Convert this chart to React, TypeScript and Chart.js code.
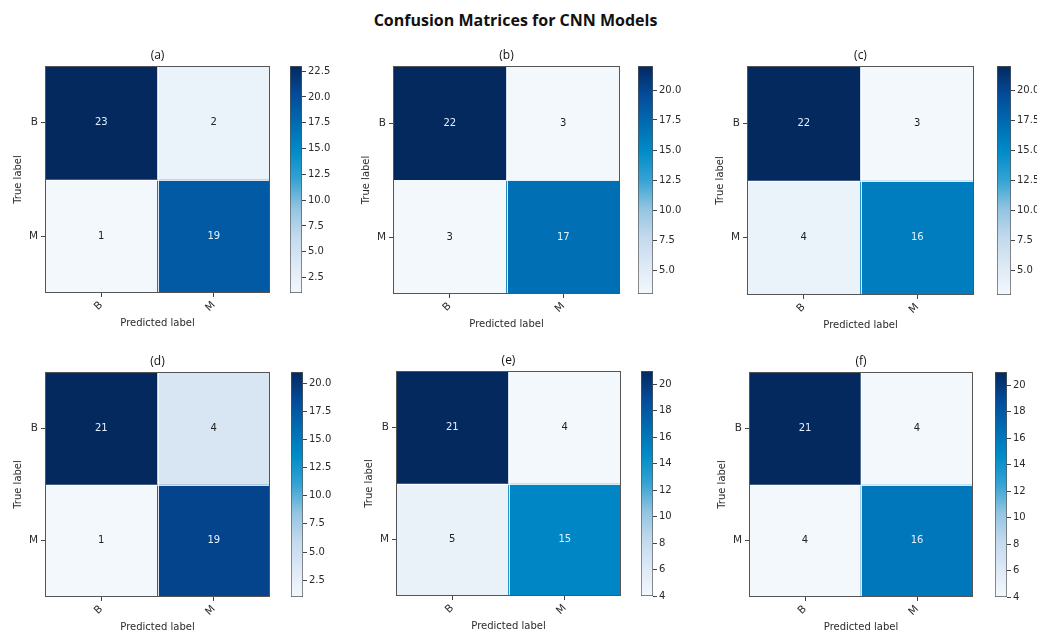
import React, { useEffect, useRef } from 'react';
import { Chart, registerables } from 'chart.js';

Chart.register(...registerables);

// ---------- data ----------
const classLabels = ['B', 'M'];
const panelTitles = ['(a)', '(b)', '(c)', '(d)', '(e)', '(f)'];

const matrixA = [[23, 2], [1, 19]];
const matrixB = [[22, 3], [3, 17]];
const matrixC = [[22, 3], [4, 16]];
const matrixD = [[21, 4], [1, 19]];
const matrixE = [[21, 4], [5, 15]];
const matrixF = [[21, 4], [4, 16]];

const colorbarTicksA = [2.5, 5, 7.5, 10, 12.5, 15, 17.5, 20, 22.5];
const colorbarTicksB = [5, 7.5, 10, 12.5, 15, 17.5, 20];
const colorbarTicksC = [5, 7.5, 10, 12.5, 15, 17.5, 20];
const colorbarTicksD = [2.5, 5, 7.5, 10, 12.5, 15, 17.5, 20];
const colorbarTicksE = [4, 6, 8, 10, 12, 14, 16, 18, 20];
const colorbarTicksF = [4, 6, 8, 10, 12, 14, 16, 18, 20];
const colorbarDecimals = [1, 1, 1, 1, 0, 0];

const matrices = [matrixA, matrixB, matrixC, matrixD, matrixE, matrixF];
const colorbarTicks = [colorbarTicksA, colorbarTicksB, colorbarTicksC, colorbarTicksD, colorbarTicksE, colorbarTicksF];

const mainTitle = 'Confusion Matrices for CNN Models';
const xTitle = 'Predicted label';
const yTitle = 'True label';

// ---------- layout (pixel boxes of each panel) ----------
const layouts = [
  { mx: 45, my: 66, w: 225, h: 227, cbx: 290, cbw: 12 },
  { mx: 393, my: 66, w: 227, h: 228, cbx: 638, cbw: 15 },
  { mx: 747, my: 66, w: 227, h: 229, cbx: 997, cbw: 14 },
  { mx: 45, my: 372, w: 225, h: 225, cbx: 291, cbw: 12 },
  { mx: 396, my: 371, w: 225, h: 225, cbx: 641, cbw: 12 },
  { mx: 749, my: 372, w: 224, h: 225, cbx: 995, cbw: 12 },
];

// Blues-like colormap as seen in the picture
const cmapStops: [number, string][] = [
  [0, '#f3f8fd'],
  [0.125, '#dde9f5'],
  [0.25, '#c3d9ed'],
  [0.375, '#92c4e1'],
  [0.5, '#35a3d3'],
  [0.625, '#008cc8'],
  [0.75, '#006cb2'],
  [0.875, '#044b98'],
  [1, '#03295f'],
];

const hexToRgb = (h: string) => [1, 3, 5].map((i) => parseInt(h.slice(i, i + 2), 16));

function colorFor(v: number, min: number, max: number) {
  const t = Math.min(1, Math.max(0, (v - min) / (max - min)));
  for (let i = 0; i < cmapStops.length - 1; i++) {
    const [p0, c0] = cmapStops[i];
    const [p1, c1] = cmapStops[i + 1];
    if (t >= p0 && t <= p1) {
      const f = (t - p0) / (p1 - p0);
      const a = hexToRgb(c0);
      const b = hexToRgb(c1);
      const c = a.map((x, k) => Math.round(x + (b[k] - x) * f));
      return `rgb(${c[0]},${c[1]},${c[2]})`;
    }
  }
  return cmapStops[cmapStops.length - 1][1];
}

const FONT = 'DejaVu Sans';
const TEXT = '#2b2b2b';

function makeMatrixChart(canvas: HTMLCanvasElement, idx: number) {
  const matrix = matrices[idx];
  const flat = matrix.flat();
  const min = Math.min(...flat);
  const max = Math.max(...flat);
  const thresh = max / 2;

  const cellPlugin = {
    id: 'cells' + idx,
    afterDatasetsDraw(chart: any) {
      const ctx = chart.ctx;
      const area = chart.chartArea;
      const xs = chart.scales.x;
      const ys = chart.scales.y;
      ctx.save();
      // separators
      ctx.strokeStyle = 'rgba(255,255,255,0.85)';
      ctx.lineWidth = 1;
      for (let i = 1; i < classLabels.length; i++) {
        const bx = Math.round((xs.getPixelForValue(i - 1) + xs.getPixelForValue(i)) / 2) + 0.5;
        ctx.beginPath();
        ctx.moveTo(bx, area.top);
        ctx.lineTo(bx, area.bottom);
        ctx.stroke();
        const by = Math.round(ys.getPixelForValue(i)) + 0.5;
        ctx.beginPath();
        ctx.moveTo(area.left, by);
        ctx.lineTo(area.right, by);
        ctx.stroke();
      }
      // numbers
      ctx.font = `10px "${FONT}"`;
      ctx.textAlign = 'center';
      ctx.textBaseline = 'middle';
      chart.data.datasets.forEach((ds: any, r: number) => {
        const meta = chart.getDatasetMeta(r);
        meta.data.forEach((el: any, c: number) => {
          const v = matrix[r][c];
          ctx.fillStyle = v > thresh ? '#e4f1fb' : '#222';
          ctx.fillText(String(v), el.x, (el.y + el.base) / 2);
        });
      });
      // frame
      ctx.strokeStyle = '#555';
      ctx.lineWidth = 1;
      ctx.strokeRect(Math.round(area.left) + 0.5, Math.round(area.top) + 0.5, Math.round(area.right - area.left) - 1, Math.round(area.bottom - area.top) - 1);
      // panel title, centred over the matrix
      ctx.font = `12px "Open Sans"`;
      ctx.fillStyle = '#111';
      ctx.textAlign = 'center';
      ctx.textBaseline = 'middle';
      ctx.fillText(panelTitles[idx], (area.left + area.right) / 2, area.top - 10);
      ctx.restore();
    },
  };

  return new Chart(canvas, {
    type: 'bar',
    data: {
      labels: classLabels,
      datasets: matrix.map((row, r) => ({
        label: classLabels[r],
        data: row.map(() => [r, r + 1]),
        backgroundColor: row.map((v) => colorFor(v, min, max)),
        borderWidth: 0,
        barPercentage: 1,
        categoryPercentage: 1,
        grouped: false,
      })),
    } as any,
    options: {
      responsive: false,
      animation: false,
      events: [],
      layout: { padding: { left: 0, right: 5, top: 26, bottom: 0 } },
      plugins: {
        legend: { display: false },
        tooltip: { enabled: false },
        title: { display: false },
      },
      scales: {
        x: {
          type: 'category',
          offset: true,
          grid: { display: true, drawOnChartArea: false, offset: false, tickLength: 4, tickColor: '#444', tickWidth: 1 },
          border: { display: false },
          ticks: { minRotation: 45, maxRotation: 45, padding: 2, color: TEXT, font: { family: FONT, size: 10.5 } },
          title: { display: true, text: xTitle, color: TEXT, font: { family: FONT, size: 10 }, padding: { top: 0, bottom: 9 } },
          afterFit: (s: any) => { s.height = 45; },
        },
        y: {
          type: 'linear',
          min: 0,
          max: classLabels.length,
          reverse: true,
          afterBuildTicks: (s: any) => { s.ticks = classLabels.map((_, i) => ({ value: i + 0.5 })); },
          grid: { display: true, drawOnChartArea: false, tickLength: 4, tickColor: '#444', tickWidth: 1 },
          border: { display: false },
          ticks: { padding: 3, color: TEXT, font: { family: FONT, size: 10.5 }, callback: (_v: any, i: number) => classLabels[i] },
          title: { display: true, text: yTitle, color: TEXT, font: { family: FONT, size: 10 }, padding: { top: 12, bottom: 0 } },
          afterFit: (s: any) => { s.width = 45; },
        },
      },
    } as any,
    plugins: [cellPlugin],
  });
}

function makeColorbarChart(canvas: HTMLCanvasElement, idx: number) {
  const flat = matrices[idx].flat();
  const min = Math.min(...flat);
  const max = Math.max(...flat);
  const ticks = colorbarTicks[idx];
  const dec = colorbarDecimals[idx];
  return new Chart(canvas, {
    type: 'bar',
    data: {
      labels: [''],
      datasets: [
        {
          data: [[min, max]],
          backgroundColor: (ctx: any) => {
            const chart = ctx.chart;
            if (!chart.chartArea) return '#ffffff';
            const y = chart.scales.y;
            const g = chart.ctx.createLinearGradient(0, y.getPixelForValue(min), 0, y.getPixelForValue(max));
            cmapStops.forEach(([p, c]) => g.addColorStop(p, c));
            return g;
          },
          borderColor: '#555',
          borderWidth: 1,
          borderSkipped: false,
          barPercentage: 1,
          categoryPercentage: 1,
        },
      ],
    } as any,
    options: {
      responsive: false,
      animation: false,
      events: [],
      layout: { padding: { left: 0, right: 0, top: 10, bottom: 10 } },
      plugins: { legend: { display: false }, tooltip: { enabled: false } },
      scales: {
        x: { display: false },
        y: {
          position: 'right',
          min,
          max,
          afterBuildTicks: (s: any) => { s.ticks = ticks.map((v) => ({ value: v })); },
          grid: { display: true, drawOnChartArea: false, tickLength: 4, tickColor: '#444', tickWidth: 1 },
          border: { display: false },
          ticks: { padding: 2, color: TEXT, font: { family: FONT, size: 10 }, callback: (v: any) => Number(v).toFixed(dec) },
          afterFit: (s: any) => { s.width = 40; },
        },
      },
    } as any,
  });
}

export default function App() {
  const matrixRefs = useRef<(HTMLCanvasElement | null)[]>([]);
  const cbRefs = useRef<(HTMLCanvasElement | null)[]>([]);

  useEffect(() => {
    const charts: Chart[] = [];
    layouts.forEach((_, i) => {
      const m = matrixRefs.current[i];
      const c = cbRefs.current[i];
      if (m) charts.push(makeMatrixChart(m, i));
      if (c) charts.push(makeColorbarChart(c, i));
    });
    return () => charts.forEach((ch) => ch.destroy());
  }, []);

  return (
    <div style={{ position: 'absolute', left: 0, top: 0, width: 1037, height: 632, background: '#fff', overflow: 'hidden' }}>
      <div
        style={{
          position: 'absolute',
          left: 0,
          top: 9,
          width: 1031,
          textAlign: 'center',
          fontFamily: '"Open Sans", sans-serif',
          fontWeight: 700,
          fontSize: 16,
          color: '#111',
        }}
      >
        {mainTitle}
      </div>
      {layouts.map((L, i) => {
        const mw = L.w + 50;
        const mh = L.h + 26 + 45;
        const cw = L.cbw + 40;
        const chh = L.h + 20;
        return (
          <React.Fragment key={i}>
            <canvas
              ref={(el) => { matrixRefs.current[i] = el; }}
              width={mw}
              height={mh}
              style={{ position: 'absolute', left: L.mx - 45, top: L.my - 26, width: mw, height: mh }}
            />
            <canvas
              ref={(el) => { cbRefs.current[i] = el; }}
              width={cw}
              height={chh}
              style={{ position: 'absolute', left: L.cbx, top: L.my - 10, width: cw, height: chh }}
            />
          </React.Fragment>
        );
      })}
    </div>
  );
}
